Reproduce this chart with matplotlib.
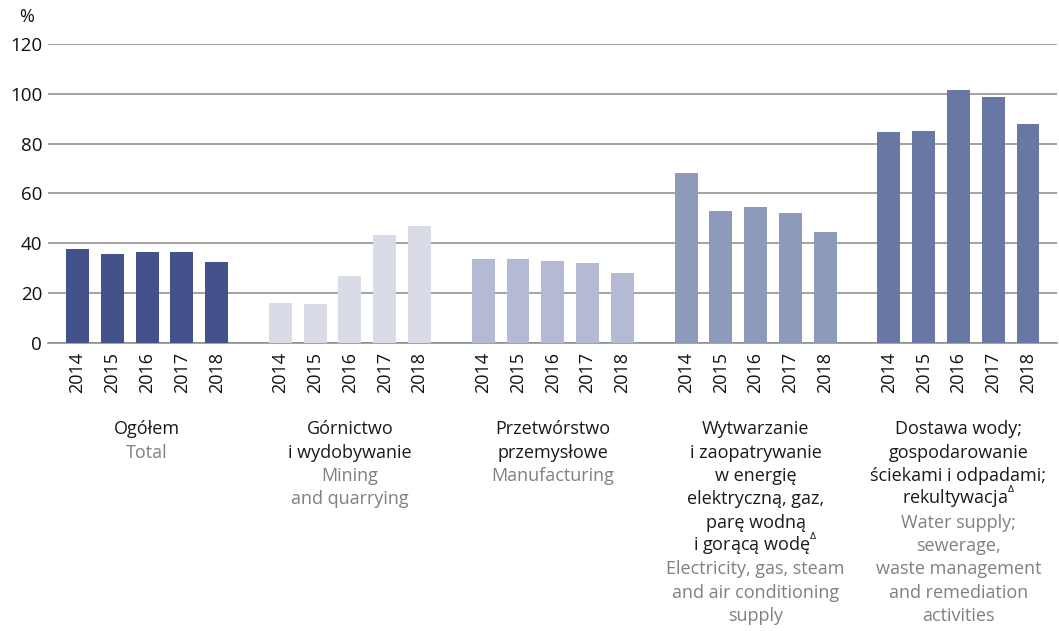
import numpy as np
import matplotlib
matplotlib.use("Agg")
import matplotlib.pyplot as plt

plt.rcParams["font.family"] = ["Open Sans", "DejaVu Sans"]

years = ["2014", "2015", "2016", "2017", "2018"]

# nazwy sekcji (PL / EN)
labels_pl = [
    ["Ogółem"],
    ["Górnictwo", "i wydobywanie"],
    ["Przetwórstwo", "przemysłowe"],
    ["Wytwarzanie", "i zaopatrywanie", "w energię", "elektryczną, gaz,",
     "parę wodną", "i gorącą wodę$^{^{\\Delta}}$"],
    ["Dostawa wody;", "gospodarowanie", "ściekami i odpadami;",
     "rekultywacja$^{^{\\Delta}}$"],
]
labels_en = [
    ["Total"],
    ["Mining", "and quarrying"],
    ["Manufacturing"],
    ["Electricity, gas, steam", "and air conditioning", "supply"],
    ["Water supply;", "sewerage,", "waste management", "and remediation",
     "activities"],
]

ogolem       = [37.7, 35.7, 36.5, 36.5, 32.5]
gornictwo    = [16.0, 15.6, 26.8, 43.3, 47.0]
przetworstwo = [33.7, 33.7, 32.9, 32.1, 28.1]
energia      = [68.3, 53.0, 54.6, 52.2, 44.6]
woda         = [84.8, 85.2, 101.7, 98.9, 88.0]

values = [ogolem, gornictwo, przetworstwo, energia, woda]
colors = ["#43528A", "#D9DCE7", "#B4BAD3", "#8E9ABC", "#6977A5"]

GROUP_STEP = 5.83
BAR_W = 0.66

fig = plt.figure(figsize=(10.59, 6.31), dpi=100)
ax = fig.add_axes([0.045, 0.457, 0.953, 0.473])

xticks, xlabels = [], []
for g, vals in enumerate(values):
    xs = g * GROUP_STEP + np.arange(len(vals))
    ax.bar(xs, vals, width=BAR_W, color=colors[g], zorder=3)
    xticks.extend(xs)
    xlabels.extend(years)
    xc = xs.mean()
    # etykiety kategorii pod osią
    off = 66
    for line in labels_pl[g]:
        ax.annotate(line, xy=(xc, 0), xycoords="data",
                    xytext=(0, -off), textcoords="offset points",
                    ha="center", va="baseline", fontsize=13, color="#1a1a1a",
                    annotation_clip=False)
        off += 16.8
    for line in labels_en[g]:
        ax.annotate(line, xy=(xc, 0), xycoords="data",
                    xytext=(0, -off), textcoords="offset points",
                    ha="center", va="baseline", fontsize=13, color="#808080",
                    annotation_clip=False)
        off += 16.8

ax.set_xlim(-0.86, 28.15)
ax.set_ylim(0, 120)
ax.set_yticks([0, 20, 40, 60, 80, 100, 120])
ax.set_xticks(xticks)
ax.set_xticklabels(xlabels, rotation=90, fontsize=13, color="#111111")
ax.tick_params(axis="x", length=0, pad=7)
ax.tick_params(axis="y", length=0, pad=4, labelsize=13.5, labelcolor="#111111")

ax.yaxis.grid(True, color="#8a8a8a", linewidth=1.1, zorder=0)
ax.set_axisbelow(True)
for s in ["top", "right", "left"]:
    ax.spines[s].set_visible(False)
ax.spines["bottom"].set_color("#8a8a8a")
ax.spines["bottom"].set_linewidth(1.1)

fig.text(27 / 1059, 1 - 17 / 631, "%", ha="center", va="center",
         fontsize=13, color="#111111")

fig.savefig("out.png", dpi=100)
